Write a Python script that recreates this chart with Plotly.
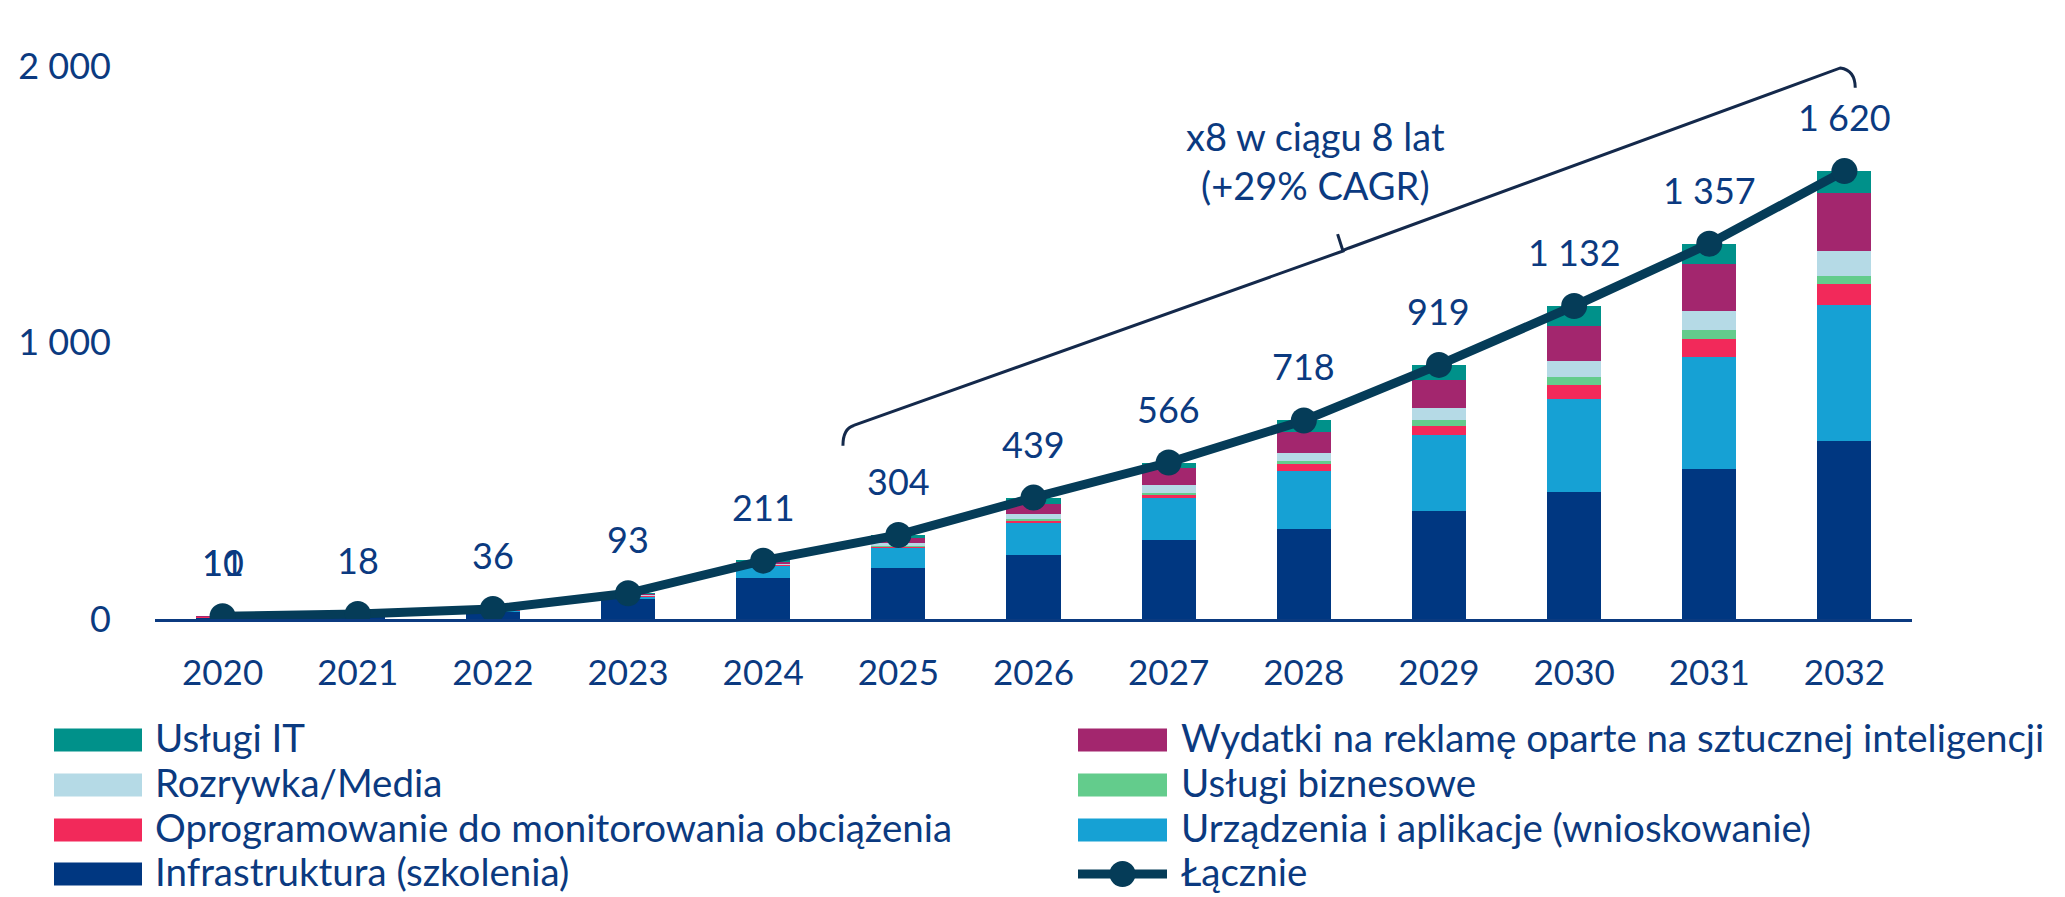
import plotly.graph_objects as go

# ---------------- data ----------------
years = [2020, 2021, 2022, 2023, 2024, 2025, 2026, 2027, 2028, 2029, 2030, 2031, 2032]
infrastruktura = [5, 12, 28, 74, 150, 186, 232, 284, 326, 391, 460, 543, 645]
urzadzenia = [2, 3, 4, 8, 43, 71, 117, 154, 211, 273, 337, 406, 489]
oprogramowanie = [1, 0.5, 1, 2, 3, 5, 6, 10, 22, 35, 50, 65, 78]
uslugi_biznesowe = [0, 0.5, 0.5, 1, 2, 3, 6, 8, 13, 22, 30, 30, 30]
rozrywka = [1, 1, 1, 2, 4, 9, 18, 28, 30, 41, 57, 70, 90]
wydatki_reklama = [1, 0.5, 1, 4, 6, 20, 37, 61, 73, 102, 125, 170, 207]
uslugi_it = [0, 0.5, 0.5, 2, 3, 10, 23, 21, 43, 55, 73, 73, 81]
lacznie = [10, 18, 36, 93, 211, 304, 439, 566, 718, 919, 1132, 1357, 1620]
extra_label_2020 = "11"

y_tickvals = [0, 1000, 2000]
y_ticktext = ["0", "1 000", "2 000"]

series = [
    ("Infrastruktura (szkolenia)", infrastruktura, "#003781"),
    ("Urządzenia i aplikacje (wnioskowanie)", urzadzenia, "#16A1D4"),
    ("Oprogramowanie do monitorowania obciążenia", oprogramowanie, "#F2295A"),
    ("Usługi biznesowe", uslugi_biznesowe, "#63CC8C"),
    ("Rozrywka/Media", rozrywka, "#B5DAE6"),
    ("Wydatki na reklamę oparte na sztucznej inteligencji", wydatki_reklama, "#A3266E"),
    ("Usługi IT", uslugi_it, "#00918A"),
]
line_name = "Łącznie"
line_color = "#053C58"
text_color = "#0B3A80"
FONT = "Lato"

# ---------------- geometry ----------------
W, H = 2065, 897
L, R, T, B = 155, 1912, 66, 619


def px_x(x):
    return (x - L) / (R - L)


def px_y(y):
    return (B - y) / (B - T)


def fmt(v):
    return f"{v:,}".replace(",", " ")


fig = go.Figure()
for name, vals, col in series:
    fig.add_trace(go.Bar(
        x=years, y=vals, name=name, width=0.4,
        marker=dict(color=col, line=dict(width=0)),
        showlegend=False,
    ))

fig.add_trace(go.Scatter(
    x=years, y=lacznie, name=line_name, mode="lines+markers",
    line=dict(color=line_color, width=9),
    marker=dict(color=line_color, size=26),
    showlegend=False,
))

annotations = []
for yr, v in zip(years, lacznie):
    annotations.append(dict(
        x=yr, y=v, text=fmt(v), showarrow=False, yshift=54,
        font=dict(family=FONT, size=36, color=text_color),
    ))
annotations.append(dict(
    x=years[0], y=lacznie[0], text=extra_label_2020, showarrow=False, yshift=54,
    font=dict(family=FONT, size=36, color=text_color),
))

# CAGR text
annotations.append(dict(
    x=2028.09, y=1660, text="x8 w ciągu 8 lat<br>(+29% CAGR)", showarrow=False,
    font=dict(family=FONT, size=38, color=text_color),
))

shapes = []
# bracket (curly brace) in data coordinates, tip pointing up
bx0, by0 = 2024.59, 627
bx1, by1 = 2024.62, 688
bx2, by2 = 2032.02, 1993
bx3, by3 = 2032.08, 1921
mx = 2028.30
my = by1 + (mx - bx1) / (bx2 - bx1) * (by2 - by1)
path = (
    f"M{bx0},{by0} Q{bx0},{by1} {bx1 + 0.05},{by1 + 12} "
    f"L{mx - 0.01},{my - 6} L{mx - 0.05},{my + 55} "
    f"M{mx - 0.02},{my - 6} L{mx + 0.03},{my + 4} "
    f"L{bx2 - 0.05},{by2} Q{bx3},{by2 - 8} {bx3},{by3}"
)
shapes.append(dict(type="path", xref="x", yref="y", path=path,
                   line=dict(color="#14294B", width=3)))

# ---------------- custom legend ----------------
legend_rows = [737, 782, 827, 871]
left_sw = (54, 142)
right_sw = (1078, 1167)
left_txt = 153
right_txt = 1179
LEG_SIZE = 38.5
legend_layout = [
    ("Usługi IT", "#00918A", 0, 0),
    ("Wydatki na reklamę oparte na sztucznej inteligencji", "#A3266E", 1, 0),
    ("Rozrywka/Media", "#B5DAE6", 0, 1),
    ("Usługi biznesowe", "#63CC8C", 1, 1),
    ("Oprogramowanie do monitorowania obciążenia", "#F2295A", 0, 2),
    ("Urządzenia i aplikacje (wnioskowanie)", "#16A1D4", 1, 2),
    ("Infrastruktura (szkolenia)", "#003781", 0, 3),
]
for label, col, c, r in legend_layout:
    sw = left_sw if c == 0 else right_sw
    tx = left_txt if c == 0 else right_txt
    yc = legend_rows[r]
    shapes.append(dict(type="rect", xref="paper", yref="paper",
                       x0=px_x(sw[0]), x1=px_x(sw[1]),
                       y0=px_y(yc + 3 - 11.5), y1=px_y(yc + 3 + 11.5),
                       fillcolor=col, line=dict(width=0)))
    annotations.append(dict(xref="paper", yref="paper", x=px_x(tx), y=px_y(yc),
                            xanchor="left", yanchor="middle", text=label,
                            showarrow=False,
                            font=dict(family=FONT, size=LEG_SIZE, color=text_color)))
# Łącznie entry
yc = legend_rows[3]
shapes.append(dict(type="line", xref="paper", yref="paper",
                   x0=px_x(right_sw[0]), x1=px_x(right_sw[1]),
                   y0=px_y(yc + 3), y1=px_y(yc + 3),
                   line=dict(color=line_color, width=9)))
cx = (right_sw[0] + right_sw[1]) / 2
shapes.append(dict(type="circle", xref="paper", yref="paper",
                   x0=px_x(cx - 13), x1=px_x(cx + 13),
                   y0=px_y(yc + 3 + 13), y1=px_y(yc + 3 - 13),
                   fillcolor=line_color, line=dict(width=0)))
annotations.append(dict(xref="paper", yref="paper", x=px_x(right_txt), y=px_y(yc),
                        xanchor="left", yanchor="middle", text=line_name,
                        showarrow=False,
                        font=dict(family=FONT, size=LEG_SIZE, color=text_color)))

fig.update_layout(
    width=W, height=H,
    margin=dict(l=L, r=W - R, t=T, b=H - B, pad=0),
    barmode="stack",
    plot_bgcolor="white", paper_bgcolor="white",
    font=dict(family=FONT, size=34, color=text_color),
    showlegend=False,
    annotations=annotations,
    shapes=shapes,
)
fig.update_xaxes(
    range=[2019.5, 2032.5], tickvals=years, ticktext=[str(y) for y in years],
    showline=True, linecolor="#0B3A80", linewidth=3, ticks="",
    showgrid=False, zeroline=False, ticklabelstandoff=21,
    tickfont=dict(family=FONT, size=35, color=text_color),
)
fig.update_yaxes(
    range=[0, 2000], tickvals=y_tickvals, ticktext=y_ticktext,
    showline=False, showgrid=False, zeroline=False, ticks="",
    ticklabelstandoff=43,
    tickfont=dict(family=FONT, size=36, color=text_color),
)

fig.write_html("out.html")
